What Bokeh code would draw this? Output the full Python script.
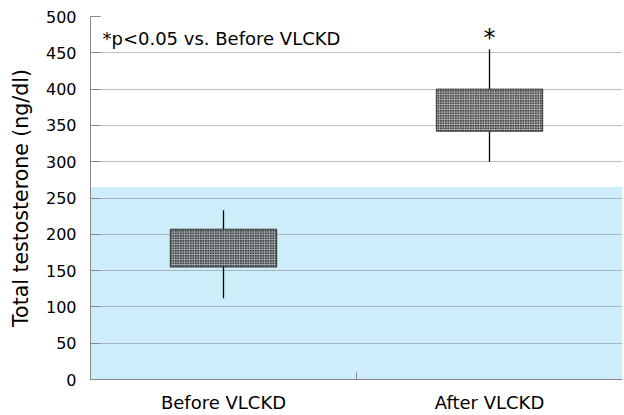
from bokeh.plotting import figure
from bokeh.models import Range1d, FixedTicker, BoxAnnotation, Label, ColumnDataSource
from bokeh.embed import file_html
from bokeh.resources import INLINE

# ---- data ----
categories = ["Before VLCKD", "After VLCKD"]
q1 = [155, 342]          # box bottom
q3 = [207, 400]          # box top
lower = [112, 300]       # whisker min
upper = [233, 455]       # whisker max
ref_upper = 265          # upper bound of the shaded reference band
y_ticks = list(range(0, 501, 50))
note_text = "*p<0.05 vs. Before VLCKD"
sig_mark = ["", "*"]

FONT = "DejaVu Sans"
xs = [i + 0.5 for i in range(len(categories))]
half_w = 0.2

src = ColumnDataSource(dict(
    x=xs, left=[x - half_w for x in xs], right=[x + half_w for x in xs],
    q1=q1, q3=q3, lower=lower, upper=upper,
))

p = figure(width=624, height=415, output_backend="svg", toolbar_location=None,
           x_range=Range1d(0, len(categories)), y_range=Range1d(y_ticks[0], y_ticks[-1]),
           min_border_left=90, min_border_right=2, min_border_top=16, min_border_bottom=36)
p.outline_line_color = None
p.background_fill_color = "white"

# shaded reference band, below grid lines
band = BoxAnnotation(bottom=0, top=ref_upper, fill_color="#ccedf9", fill_alpha=1.0,
                     line_color=None, level="image")
p.add_layout(band)

# grids
p.xgrid.visible = False
p.ygrid.ticker = FixedTicker(ticks=y_ticks[1:-1])
p.ygrid.grid_line_color = "#808080"
p.ygrid.grid_line_alpha = 0.5
p.ygrid.grid_line_width = 1.2

# y axis
p.yaxis.ticker = FixedTicker(ticks=y_ticks)
p.yaxis.axis_line_color = "#888888"
p.yaxis.major_tick_line_color = "#888888"
p.yaxis.major_tick_in = 10
p.yaxis.major_tick_out = 0
p.yaxis.minor_tick_line_color = None
p.yaxis.major_label_standoff = 14
p.yaxis.major_label_text_font = FONT
p.yaxis.major_label_text_font_size = "16px"
p.yaxis.major_label_text_color = "black"
p.yaxis.axis_label = "Total testosterone (ng/dl)"
p.yaxis.axis_label_text_font = FONT
p.yaxis.axis_label_text_font_size = "20.5px"
p.yaxis.axis_label_text_font_style = "normal"
p.yaxis.axis_label_text_color = "black"
p.yaxis.axis_label_standoff = 10

# x axis: labels at category centres, a single tick between categories
p.xaxis.ticker = FixedTicker(ticks=xs, minor_ticks=[i for i in range(1, len(categories))])
p.xaxis.major_label_overrides = {x: c for x, c in zip(xs, categories)}
p.xaxis.axis_line_color = "#888888"
p.xaxis.major_tick_line_color = None
p.xaxis.minor_tick_line_color = "#888888"
p.xaxis.minor_tick_in = 7
p.xaxis.minor_tick_out = 0
p.xaxis.major_label_standoff = 6
p.xaxis.major_label_text_font = FONT
p.xaxis.major_label_text_font_size = "18px"
p.xaxis.major_label_text_color = "black"

# whiskers
p.segment(x0="x", y0="q3", x1="x", y1="upper", source=src, line_color="black", line_width=1.3)
p.segment(x0="x", y0="q1", x1="x", y1="lower", source=src, line_color="black", line_width=1.3)

# boxes with fine check pattern
p.quad(left="left", right="right", bottom="q1", top="q3", source=src,
       fill_color="black", fill_alpha=0.72,
       hatch_pattern="cross", hatch_color="white", hatch_alpha=0.55, hatch_scale=2.5,
       hatch_weight=1, line_color="#222222", line_alpha=0.85, line_width=1)

# annotations
p.add_layout(Label(x=0.045, y=470, text=note_text, text_font=FONT, text_font_size="18px",
                   text_color="black", text_baseline="alphabetic"))
for x, up, s in zip(xs, upper, sig_mark):
    if s:
        p.add_layout(Label(x=x, y=up + 15, text=s, text_font=FONT, text_font_size="24px",
                           text_color="black", text_align="center", text_baseline="alphabetic"))

open("out.html", "w").write(file_html(p, INLINE))
